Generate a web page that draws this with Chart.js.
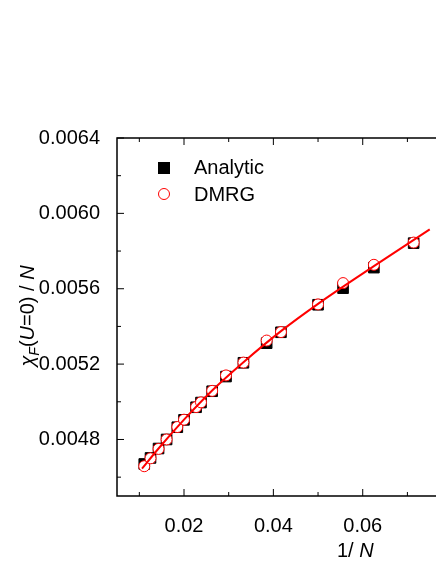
<!DOCTYPE html>
<html>
<head>
<script src="https://cdn.jsdelivr.net/npm/chart.js@4"></script>
<style>body{margin:0;background:#fff}#c{display:block}</style>
</head>
<body>
<canvas id="c" width="436" height="564"></canvas>
<script>
const invN = [0.0111, 0.0125, 0.0143, 0.0161, 0.0185, 0.0200, 0.0227, 0.0238, 0.0263, 0.0294, 0.0333, 0.0385, 0.0417, 0.0500, 0.0556, 0.0625, 0.0714];
const analytic = [0.004670, 0.004702, 0.004752, 0.004800, 0.004865, 0.004904, 0.004971, 0.004996, 0.005056, 0.005134, 0.005207, 0.005311, 0.005369, 0.005515, 0.005603, 0.005712, 0.005842];
const dmrg = [0.004658, 0.004700, 0.004750, 0.004800, 0.004866, 0.004905, 0.004972, 0.004997, 0.005058, 0.005140, 0.005208, 0.005325, 0.005370, 0.005517, 0.005630, 0.005727, 0.005845];
const fitX = [0.0106, 0.0143, 0.0200, 0.0263, 0.0333, 0.0417, 0.0500, 0.0625, 0.0750];
const fitY = [0.004645, 0.004752, 0.004905, 0.005060, 0.005210, 0.005375, 0.005520, 0.005720, 0.005915];
const xMajor = [0.02, 0.04, 0.06];
const xMinor = [0.01, 0.03, 0.05, 0.07];
const yMajor = [0.0048, 0.0052, 0.0056, 0.0060, 0.0064];
const yMinor = [0.0046, 0.0050, 0.0054, 0.0058, 0.0062];

const pts = (xs, ys) => xs.map((x, i) => ({x: x, y: ys[i]}));
const FONT = '"Liberation Sans", Arial, sans-serif';

// frame, inward ticks, legend and axis titles
const decor = {
    id: 'decor',
    afterDraw(chart) {
        const {ctx, chartArea: a, scales: {x, y}} = chart;
        ctx.save();
        ctx.strokeStyle = '#000';
        ctx.lineWidth = 1.5;
        ctx.beginPath();
        ctx.moveTo(440, a.top); ctx.lineTo(a.left, a.top);
        ctx.lineTo(a.left, a.bottom); ctx.lineTo(440, a.bottom);
        ctx.stroke();
        ctx.lineWidth = 1;
        ctx.beginPath();
        const xt = (v, len) => {
            const p = x.getPixelForValue(v);
            ctx.moveTo(p, a.bottom); ctx.lineTo(p, a.bottom - len);
            ctx.moveTo(p, a.top); ctx.lineTo(p, a.top + len);
        };
        const yt = (v, len) => {
            const p = y.getPixelForValue(v);
            ctx.moveTo(a.left, p); ctx.lineTo(a.left + len, p);
        };
        xMajor.forEach(v => xt(v, 7));
        xMinor.forEach(v => xt(v, 4));
        yMajor.forEach(v => yt(v, 7));
        yMinor.forEach(v => yt(v, 4));
        ctx.stroke();

        // legend
        ctx.fillStyle = '#000';
        ctx.fillRect(158, 162, 12, 12);
        ctx.strokeStyle = 'red';
        ctx.beginPath(); ctx.arc(164, 194, 5.5, 0, Math.PI * 2); ctx.stroke();
        ctx.font = '20px ' + FONT;
        ctx.textBaseline = 'middle';
        ctx.fillText('Analytic', 194, 168);
        ctx.fillText('DMRG', 194, 195);

        // x title
        ctx.textBaseline = 'alphabetic';
        ctx.fillText('1/ ', 337, 557);
        let w = ctx.measureText('1/ ').width;
        ctx.font = 'italic 20px ' + FONT;
        ctx.fillText('N', 337 + w, 557);

        // y title
        ctx.translate(34, 316);
        ctx.rotate(-Math.PI / 2);
        const parts = [['\u03C7', 'italic 20px', 0], ['F', 'italic 14px', 5], ['(', '20px', 0], ['U', 'italic 20px', 0], ['=0) / ', '20px', 0], ['N', 'italic 20px', 0]];
        let total = 0;
        parts.forEach(p => { ctx.font = p[1] + ' ' + FONT; total += ctx.measureText(p[0]).width; });
        let cx = -total / 2;
        parts.forEach(p => {
            ctx.font = p[1] + ' ' + FONT;
            ctx.fillText(p[0], cx, p[2]);
            cx += ctx.measureText(p[0]).width;
        });
        ctx.restore();
    }
};

new Chart(document.getElementById('c'), {
    type: 'scatter',
    data: {
        datasets: [
            {label: 'Fit', type: 'line', data: pts(fitX, fitY), borderColor: 'red', borderWidth: 2, pointRadius: 0, cubicInterpolationMode: 'monotone', fill: false, order: 0},
            {label: 'DMRG', data: pts(invN, dmrg), pointStyle: 'circle', pointRadius: 5.5, borderColor: 'red', backgroundColor: '#fff', borderWidth: 1, order: 1},
            {label: 'Analytic', data: pts(invN, analytic), pointStyle: 'rect', pointRadius: 7.5, borderColor: '#000', backgroundColor: '#000', order: 2}
        ]
    },
    plugins: [decor],
    options: {
        responsive: false,
        animation: false,
        clip: false,
        layout: {padding: {top: 138, right: -6, left: 0, bottom: 0}},
        plugins: {legend: {display: false}, tooltip: {enabled: false}},
        scales: {
            x: {
                type: 'linear', min: 0.005, max: 0.0745,
                afterBuildTicks: s => { s.ticks = xMajor.map(v => ({value: v})); },
                afterFit: s => { s.height = 68; },
                grid: {display: false}, border: {display: false},
                ticks: {color: '#000', font: {family: FONT, size: 20}, padding: 10, callback: v => v.toFixed(2)}
            },
            y: {
                min: 0.0045, max: 0.0064,
                afterBuildTicks: s => { s.ticks = yMajor.map(v => ({value: v})); },
                afterFit: s => { s.width = 117; },
                grid: {display: false}, border: {display: false},
                ticks: {color: '#000', font: {family: FONT, size: 20}, padding: 9, callback: v => v.toFixed(4)}
            }
        }
    }
});
</script>
</body>
</html>
